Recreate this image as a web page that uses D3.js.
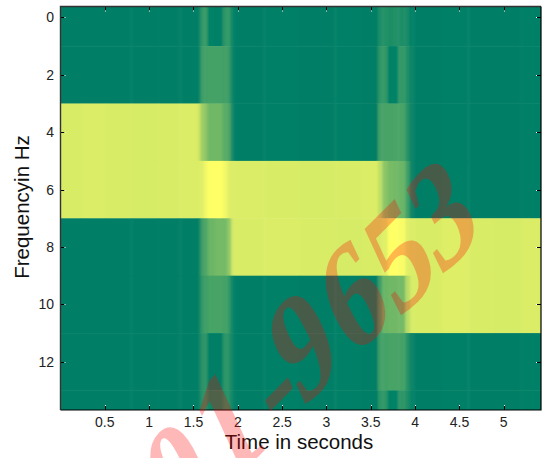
<!DOCTYPE html>
<html><head><meta charset="utf-8">
<style>html,body{margin:0;padding:0;background:#fff}svg{display:block}</style>
<script src="https://cdn.jsdelivr.net/npm/d3@7"></script></head>
<body><div id="c"></div>
<script>
const timeEdges=[0,.25,.5,.8,1.1,1.35,1.55,1.58,1.62,1.66,1.74,1.83,1.88,1.92,1.95,2.3,2.7,3.1,3.4,3.58,3.63,3.69,3.75,3.81,3.89,3.94,3.98,4.3,4.6,4.9,5.2,5.42];
const freqEdges=[-0.38,1,3,5,7,9,11,13,13.68];
const row0=[0,0,0,0,0,0,.03,.2,.22,.02,.01,.18,.2,.05,0,.01,0,.01,0,.1,.14,.12,.13,.12,.08,.02,0,.01,0,0,.01];
const row1=[0,0,0,0,0,0,.03,.24,.26,.27,.27,.26,.22,.05,0,.01,0,.01,0,.18,.2,.02,.02,.2,.12,.03,0,.01,0,0,.01];
const row2=[.85,.86,.85,.84,.85,.86,.8,.62,.55,.44,.44,.35,.3,.08,0,.01,0,.01,0,.26,.28,.28,.29,.28,.15,.03,0,.01,0,0,.01];
const row3=[.85,.86,.85,.84,.85,.86,.86,.88,.95,1,1,.95,.88,.85,.86,.85,.84,.85,.86,.75,.55,.47,.45,.42,.25,.03,0,.01,0,0,.01];
const row4=[0,0,0,0,0,0,.05,.25,.3,.42,.46,.46,.55,.8,.85,.86,.85,.84,.85,.85,.88,1,1,.98,.88,.86,.85,.87,.85,.84,.86];
const row5=[0,0,0,0,0,0,.04,.2,.25,.28,.28,.27,.2,.05,0,.01,0,.01,0,.25,.42,.44,.44,.46,.72,.84,.85,.87,.85,.84,.86];
const row6=[0,0,0,0,0,0,.03,.16,.17,0,0,.17,.15,.04,0,.01,0,.01,0,.25,.27,.28,.28,.27,.15,.03,0,.01,0,0,.01];
const row7=[0,0,0,0,0,0,.03,.15,.15,.06,.06,.14,.15,.04,0,.01,0,.01,0,.17,.18,.02,.02,.18,.1,.02,0,.01,0,0,.01];
const rows=[row0,row1,row2,row3,row4,row5,row6,row7];
const xTicks=[.5,1,1.5,2,2.5,3,3.5,4,4.5,5];
const yTicks=[0,2,4,6,8,10,12];
const xLabel="Time in seconds", yLabel="Frequencyin Hz", stampText="01-9653";

const W=542,H=458,L=60.5,R=541,T=6.5,B=410;
const x=d3.scaleLinear().domain([0,5.42]).range([L,R]);
const y=d3.scaleLinear().domain([-0.38,13.68]).range([T,B]);
const color=d3.scaleLinear().domain([0,1]).range(["#007f66","#ffff66"]);
const svg=d3.select("#c").append("svg").attr("width",W).attr("height",H);
const defs=svg.append("defs");
defs.append("clipPath").attr("id","pc").append("rect").attr("x",L).attr("y",T).attr("width",R-L).attr("height",B-T);
defs.append("filter").attr("id","sm").attr("x","-2%").attr("y","-2%").attr("width","104%").attr("height","104%")
  .append("feGaussianBlur").attr("stdDeviation","0.9 0.5");
const cells=svg.append("g").attr("clip-path","url(#pc)").append("g").attr("filter","url(#sm)");
rows.forEach((r,i)=>{
  cells.selectAll(null).data(r).join("rect")
    .attr("x",(d,j)=>x(timeEdges[j])-(j==0?4:0))
    .attr("width",(d,j)=>x(timeEdges[j+1])-x(timeEdges[j])+(j==0?4:0)+(j==r.length-1?4:.4))
    .attr("y",y(freqEdges[i])-(i==0?4:0))
    .attr("height",y(freqEdges[i+1])-y(freqEdges[i])+(i==0?4:0)+(i==rows.length-1?4:.4))
    .attr("fill",d=>color(d));
});
const font="'Liberation Sans',Arial,sans-serif";
const ax=svg.append("g");
[[B,-1],[T,1]].forEach(([py,dir])=>{
  ax.selectAll(null).data(xTicks).join("line").attr("stroke","#000")
    .attr("x1",d=>Math.round(x(d))+.5).attr("x2",d=>Math.round(x(d))+.5).attr("y1",py).attr("y2",py+dir*4);
  ax.selectAll(null).data(xTicks).join("rect").attr("fill","#fff").attr("width",1).attr("height",1)
    .attr("x",d=>Math.round(x(d))).attr("y",py+dir*4+(dir>0?0:-1));
});
[[L,1],[R,-1]].forEach(([px,dir])=>{
  ax.selectAll(null).data(yTicks).join("line").attr("stroke","#000")
    .attr("y1",d=>Math.round(y(d))+.5).attr("y2",d=>Math.round(y(d))+.5).attr("x1",px).attr("x2",px+dir*4);
  ax.selectAll(null).data(yTicks).join("rect").attr("fill","#fff").attr("width",1).attr("height",1)
    .attr("y",d=>Math.round(y(d))).attr("x",px+dir*4+(dir>0?0:-1));
});
ax.append("path").attr("d",`M${L},${B}V${T}H${R}`).attr("fill","none").attr("stroke","#333").attr("stroke-width",1.4);
ax.append("path").attr("d",`M${L},${B}H${R}V${T}`).attr("fill","none").attr("stroke","#000").attr("stroke-width",1.2);
ax.selectAll(null).data(xTicks).join("text").attr("x",d=>x(d)).attr("y",427).attr("text-anchor","middle")
  .attr("font-family",font).attr("font-size",14).attr("fill","#222").text(d=>d);
ax.selectAll(null).data(yTicks).join("text").attr("x",54).attr("y",d=>y(d)+5).attr("text-anchor","end")
  .attr("font-family",font).attr("font-size",14).attr("fill","#222").text(d=>d);
svg.append("text").attr("x",299).attr("y",449).attr("text-anchor","middle").attr("font-family",font).attr("font-size",20.5).attr("fill","#111").text(xLabel);
svg.append("text").attr("transform","translate(29,207) rotate(-90)").attr("text-anchor","middle").attr("font-family",font).attr("font-size",20.5).attr("fill","#111").text(yLabel);
svg.append("text").attr("transform","matrix(.88,-.88,.6,1.3,177,541)")
  .attr("dx","0 6.1 9.3 -5.1 6.33 .67 -2").attr("dy","0 -1.6 1.6 -3.7 .54 3.16 0")
  .attr("font-family","'Liberation Serif',serif").attr("font-weight","bold").attr("font-size",100).attr("fill","rgba(255,0,0,0.28)").text(stampText);
</script></body></html>
